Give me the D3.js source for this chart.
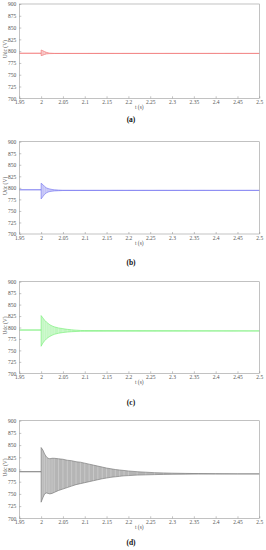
<!DOCTYPE html>
<html>
<head>
<meta charset="utf-8">
<script src="https://cdn.jsdelivr.net/npm/d3@7"></script>
<style>
  body { margin: 0; background: #fff; }
  svg { display: block; font-family: "Liberation Serif", "DejaVu Serif", serif; }
</style>
</head>
<body>
<svg id="chart" width="266" height="550"></svg>
<script>
// TICKS
const xTicks = [1.95, 2, 2.05, 2.1, 2.15, 2.2, 2.25, 2.3, 2.35, 2.4, 2.45, 2.5];
const yTicks = [700, 725, 750, 775, 800, 825, 850, 875, 900];

// PANEL (a) - envelope of Udc
const timeA = [1.95, 2.0, 2.0, 2.004, 2.008, 2.012, 2.016, 2.02, 2.03, 2.5];
const highA = [795.5, 795.5, 802.5, 801, 799, 797.5, 796.5, 795.8, 795.3, 795.2];
const lowA = [795.5, 795.5, 790.5, 791.5, 793, 794, 794.5, 794.8, 795, 795.2];

// PANEL (b)
const timeB = [1.95, 2.0, 2.0, 2.004, 2.008, 2.012, 2.016, 2.02, 2.025, 2.03, 2.04, 2.05, 2.5];
const highB = [795.8, 795.8, 810, 807, 803, 800, 798.5, 797.5, 796.5, 795.8, 795.2, 794.8, 794.5];
const lowB = [795.8, 795.8, 776, 781, 786, 789, 791, 792, 792.8, 793.3, 793.8, 794.2, 794.5];

// PANEL (c)
const timeC = [1.95, 2.0, 2.0, 2.004, 2.008, 2.012, 2.016, 2.02, 2.025, 2.03, 2.04, 2.05, 2.06, 2.07, 2.08, 2.09, 2.1, 2.5];
const highC = [794.5, 794.5, 826, 821, 816, 812, 809, 806, 803.5, 801.5, 799, 797.5, 796, 795, 794.2, 793.6, 793.2, 792.5];
const lowC = [794.5, 794.5, 759, 766, 771, 775, 778, 780.5, 783, 785, 787.5, 789, 790, 790.8, 791.3, 791.7, 792, 792.5];

// PANEL (d)
const timeD = [1.95, 2.0, 2.0, 2.004, 2.008, 2.012, 2.016, 2.02, 2.025, 2.03, 2.04, 2.05,
  2.06, 2.07, 2.08, 2.09, 2.1, 2.11, 2.12, 2.13, 2.14, 2.15, 2.16, 2.17, 2.18, 2.19,
  2.2, 2.22, 2.24, 2.26, 2.28, 2.3, 2.33, 2.36, 2.4, 2.45, 2.5];
const highD = [795.5, 795.5, 845, 840, 832, 826, 823, 822, 823, 823, 822, 821,
  819, 818, 816, 815, 813, 811, 809, 807, 805, 803, 801.5, 800, 799, 798,
  797, 795.5, 794.5, 793.5, 793, 792.5, 792, 791.6, 791.3, 791, 791];
const lowD = [795.5, 795.5, 733, 742, 750, 752, 751, 750, 751, 753, 757, 760,
  763, 766, 769, 771, 773, 775, 777, 779, 781, 782.5, 784, 785, 786, 787,
  787.5, 788.5, 789, 789.5, 790, 790.2, 790.5, 790.7, 790.8, 791, 791];

const panels = [
  { tag: "(a)", color: "#f07070", fill: "#f6b0b0", time: timeA, high: highA, low: lowA,
    top: 4, bottom: 98.3, tickGap: 4, labelGap: 9, tagGap: 21 },
  { tag: "(b)", color: "#7070f0", fill: "#b4b4f6", time: timeB, high: highB, low: lowB,
    top: 141.7, bottom: 234, tickGap: 3.7, labelGap: 9.3, tagGap: 28 },
  { tag: "(c)", color: "#70ee70", fill: "#b4f6b4", time: timeC, high: highC, low: lowC,
    top: 281.7, bottom: 373.3, tickGap: 3.4, labelGap: 8.4, tagGap: 28.7 },
  { tag: "(d)", color: "#707070", fill: "#a8a8a8", time: timeD, high: highD, low: lowD,
    top: 420.7, bottom: 518.3, tickGap: 3.4, labelGap: 8.4, tagGap: 24 }
];

const svg = d3.select("#chart");
const left = 19.3;
const right = 259.3;

const drawPanel = p => {
  const x = d3.scaleLinear().domain([1.95, 2.5]).range([left, right]);
  const y = d3.scaleLinear().domain([700, 900]).range([p.bottom, p.top]);
  const g = svg.append("g");

  const pts = p.time.map((t, i) => ({ t: t, hi: p.high[i], lo: p.low[i] }));

  // OSCILLATION BAND
  g.append("path")
    .datum(pts)
    .attr("fill", p.fill)
    .attr("fill-opacity", 0.85)
    .attr("d", d3.area().x(d => x(d.t)).y0(d => y(d.lo)).y1(d => y(d.hi)));

  // STRIPES inside the band
  g.selectAll("line.stripe")
    .data(pts.filter(d => d.hi - d.lo > 1))
    .join("line")
    .attr("class", "stripe")
    .attr("x1", d => x(d.t)).attr("x2", d => x(d.t))
    .attr("y1", d => y(d.lo)).attr("y2", d => y(d.hi))
    .attr("stroke", "#fff")
    .attr("stroke-opacity", 0.45)
    .attr("stroke-width", 0.6);

  // ENVELOPE / STEADY LINE
  ["hi", "lo"].forEach(k => {
    g.append("path")
      .datum(pts)
      .attr("fill", "none")
      .attr("stroke", p.color)
      .attr("stroke-width", 0.6)
      .attr("d", d3.line().x(d => x(d.t)).y(d => y(d[k])));
  });

  // FRAME
  g.append("rect")
    .attr("x", left).attr("y", p.top)
    .attr("width", right - left).attr("height", p.bottom - p.top)
    .attr("fill", "none").attr("stroke", "#999").attr("stroke-width", 0.6);

  // AXES with inward ticks
  const yAxis = g.append("g")
    .attr("transform", `translate(${left},0)`)
    .call(d3.axisLeft(y).tickValues(yTicks).tickSize(-2).tickPadding(3).tickFormat(d3.format("d")));
  const xAxis = g.append("g")
    .attr("transform", `translate(0,${p.bottom})`)
    .call(d3.axisBottom(x).tickValues(xTicks).tickSize(-2).tickPadding(p.tickGap).tickFormat(d => String(d)));
  [yAxis, xAxis].forEach(a => {
    a.select(".domain").remove();
    a.selectAll("line").attr("stroke", "#888").attr("stroke-width", 0.5);
    a.selectAll("text")
      .attr("font-family", "Liberation Serif")
      .attr("font-size", 5.5)
      .attr("fill", "#555");
  });
  xAxis.selectAll("text").attr("dy", "0.35em").attr("y", p.tickGap);

  // LABELS
  g.append("text")
    .attr("x", (left + right) / 2)
    .attr("y", p.bottom + p.labelGap)
    .attr("dy", "0.35em")
    .attr("text-anchor", "middle")
    .attr("font-size", 5.5)
    .attr("fill", "#555")
    .text("t (s)");

  g.append("text")
    .attr("transform", `translate(5,${(p.top + p.bottom) / 2 - 2}) rotate(-90)`)
    .attr("text-anchor", "middle")
    .attr("dy", "0.35em")
    .attr("font-size", 5.5)
    .attr("fill", "#555")
    .text("Udc (V)");

  g.append("text")
    .attr("x", 131)
    .attr("y", p.bottom + p.tagGap)
    .attr("dy", "0.35em")
    .attr("text-anchor", "middle")
    .attr("font-size", 7.5)
    .attr("font-weight", "bold")
    .attr("fill", "#111")
    .text(p.tag);
};

panels.forEach(drawPanel);
</script>
</body>
</html>
